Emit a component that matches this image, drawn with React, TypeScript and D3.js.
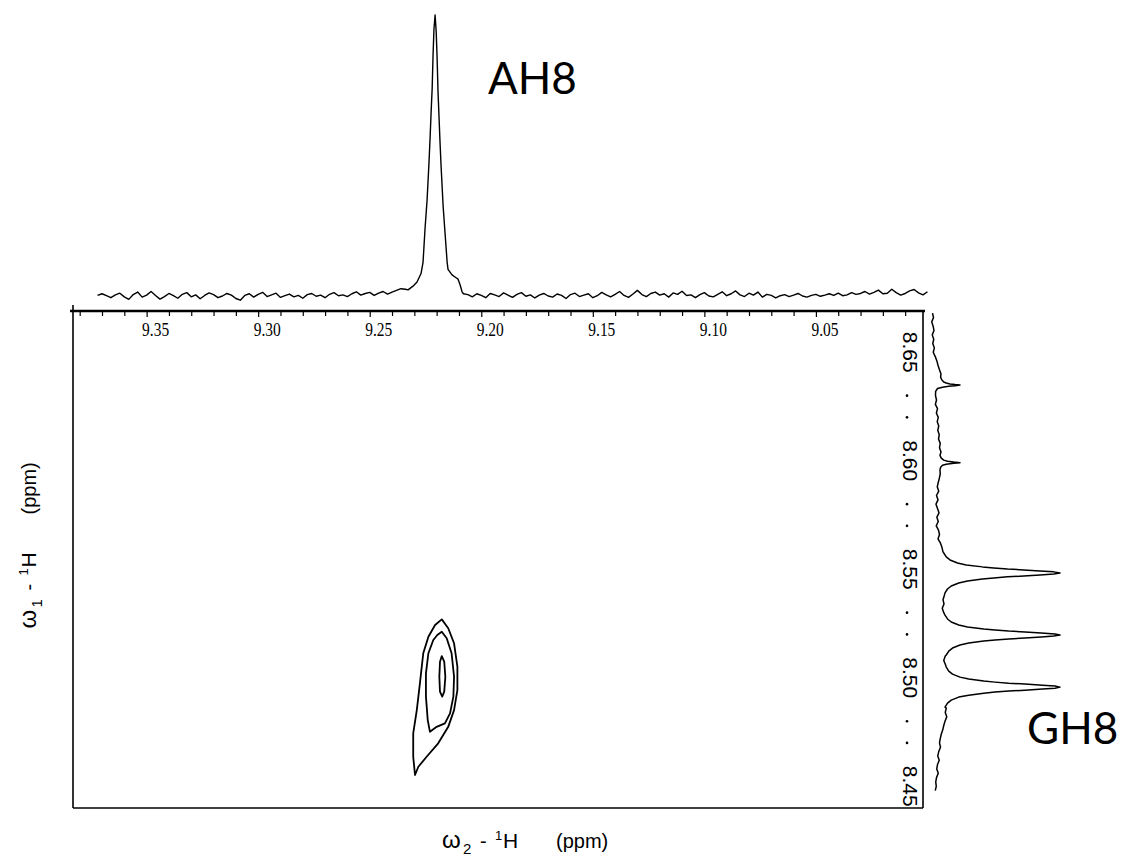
import React, { useRef, useEffect } from 'react';
import * as d3 from 'd3';

// omega-2 (direct, horizontal) and omega-1 (vertical) ppm ranges
const xDomain: [number, number] = [9.383, 9.002];
const yDomain: [number, number] = [8.669, 8.44];

const xMajorTicks = [9.35, 9.3, 9.25, 9.2, 9.15, 9.1, 9.05];
const xMinorTicks = [
  9.38, 9.37, 9.36, 9.34, 9.33, 9.32, 9.31, 9.29, 9.28, 9.27, 9.26, 9.24, 9.23, 9.22, 9.21,
  9.19, 9.18, 9.17, 9.16, 9.14, 9.13, 9.12, 9.11, 9.09, 9.08, 9.07, 9.06, 9.04, 9.03, 9.02, 9.01,
];
const yMajorTicks = [8.65, 8.6, 8.55, 8.5, 8.45];
const yMinorDots = [8.63, 8.62, 8.58, 8.57, 8.53, 8.52, 8.48, 8.47];

// top 1D projection: baseline noise every 0.002 ppm from 9.372 (null = under the peak)
const topStart = 9.372;
const topStep = 0.002;
const topNoise: (number | null)[] = [
  0.2, 0.8, 0.1, -0.6, 0.4, 1.0, -0.3, -1.2, 0.5, 1.4,
  -0.4, 0.3, 1.6, 0.2, -1.1, -0.2, 0.9, 0.1, -0.8, 0.6,
  1.2, -0.3, 0.4, -1.0, 0.2, 1.1, 0.5, -0.6, 0.0, 0.9,
  0.3, -0.9, -1.5, 0.2, 0.8, -0.4, 0.6, 1.3, -0.2, 0.4,
  1.0, -0.5, 0.1, 0.7, -0.3, 0.2, -0.8, 0.5, 0.9, -0.1,
  0.3, -0.6, 0.6, 1.2, 0.1, 0.4, -0.2, 0.8, 1.5, 0.3,
  0.9, 1.3, 0.2, 1.0, 1.6, 0.7, 1.4, 2.0, 2.6,
  2.4,
  null, null, null, null, null, null, null, null, null, null, null, null,
  0.8,
  0.5, -0.3, 0.8, 0.2, -0.6, 0.9, 0.4, -0.2, 1.1, 0.3,
  -0.5, 0.6, 1.2, -0.1, 0.4, -0.7, 0.3, 0.9, 0.0, -0.4,
  0.7, 0.2, -0.9, 0.5, 1.0, -0.2, 0.3, 0.8, -0.6, 0.1,
  1.3, 0.4, -0.3, 0.6, 1.6, 0.2, -0.5, 0.7, 2.0, 0.5,
  -0.2, 0.9, 1.4, 0.3, 0.8, -0.4, 1.1, 0.6, 1.7, 0.2,
  0.4, -0.6, 0.5, 1.2, 0.0, -0.3, 0.6, 1.5, 0.1, 0.8,
  1.8, 0.4, -0.2, 1.0, 0.3, 1.4, -0.4, 0.6, 0.2, -0.7,
  0.1, 0.5, -0.2, 0.3, 0.9, 0.0, -0.4, 0.2, 0.6, -0.1,
  0.3, 0.8, 0.2, 1.0, 0.1, 0.4, 1.2, 0.6, 0.9, 1.6,
  0.7, 1.3, 2.1, 0.8, 1.0, 2.4, 1.2, 0.3, 0.9, 1.8,
  2.3, 1.1, 0.4, 1.5,
];
// AH8 peak [ppm, intensity]
const topPeak: [number, number][] = [
  [9.2328, 2.2], [9.2306, 3.5], [9.2288, 5], [9.227, 8], [9.2261, 12], [9.2252, 24],
  [9.2243, 34], [9.2234, 48], [9.2229, 57], [9.2225, 65], [9.222, 74], [9.2216, 86],
  [9.2212, 95], [9.2207, 100], [9.2202, 94], [9.2198, 85], [9.2194, 73], [9.2189, 63],
  [9.2185, 55], [9.218, 46], [9.2171, 32], [9.2162, 22], [9.2153, 12], [9.2149, 9.5],
  [9.214, 8.5], [9.2131, 7.5], [9.2113, 6.5], [9.2104, 6], [9.2095, 4], [9.2086, 1.5],
];

// right 1D projection: baseline every 0.002 ppm from 8.668 (null = under a peak)
const sideStart = 8.668;
const sideStep = 0.002;
const sideNoise: (number | null)[] = [
  -2.0, -1.2, -2.6, -1.5, -0.8, -2.2, -1.0, -1.8, -0.5, -1.4,
  0.2, 1.5, 2.4, 3.5, 4.8, null, null, null, null, 0.4,
  1.2, 0.3, 2.0, 1.1, 2.6, 1.8, 3.0, 2.2, 3.4, 2.8,
  4.2, 3.6, 4.8, null, null, null, null, 4.2, 3.5, 2.6,
  1.8, 3.0, 1.2, 2.4, 0.8, 2.0, 3.2, 1.5, 2.6, 1.0,
  2.8, 3.6, 2.4, 4.4, 5.6, 6.4, null, null, null, null,
  null, null, null, null, null, 7.5, 6.4, 7.2, 5.8, 7.0,
  null, null, null, null, null, null, null, null, null, 8.2,
  7.0, 8.4, null, null, null, null, null, null, null, null,
  null, 9.0, 8.2, 9.4, 8.0, 7.0, 6.2, 5.0, 4.2, 3.6,
  4.4, 3.0, 2.2, 3.4, 2.0, 1.4, 2.6, 1.2, 0.6, 1.0,
  0.2,
];
const sidePeakA: [number, number][] = [
  [8.6385, 4.5], [8.6372, 5.5], [8.6363, 7], [8.6358, 9], [8.6354, 12], [8.6351, 16],
  [8.6349, 20], [8.6346, 16], [8.6343, 11], [8.6339, 6], [8.6333, 2], [8.632, 0.5],
];
const sidePeakB: [number, number][] = [
  [8.6025, 4], [8.6012, 5], [8.6003, 7], [8.5998, 10], [8.5994, 15], [8.5991, 20],
  [8.5988, 15], [8.5984, 9], [8.5979, 6], [8.597, 4.5], [8.5958, 4],
];
const sidePeakC: [number, number][] = [
  [8.5575, 7], [8.5557, 9], [8.5543, 12], [8.5529, 18], [8.552, 25], [8.5511, 38],
  [8.5506, 47], [8.5501, 58], [8.5497, 71], [8.5492, 84], [8.5488, 95], [8.5483, 100],
  [8.5478, 95], [8.5474, 84], [8.5469, 71], [8.5465, 58], [8.546, 47], [8.5455, 38],
  [8.5446, 26], [8.5437, 19], [8.5423, 13], [8.5409, 10], [8.5391, 8],
];
const sidePeakD: [number, number][] = [
  [8.5289, 8], [8.5271, 10], [8.5257, 13], [8.5243, 19], [8.5234, 26], [8.5225, 39],
  [8.522, 48], [8.5215, 59], [8.5211, 72], [8.5206, 85], [8.5202, 96], [8.5197, 100],
  [8.5192, 95], [8.5188, 85], [8.5183, 72], [8.5179, 59], [8.5174, 48], [8.5169, 39],
  [8.516, 27], [8.5151, 20], [8.5137, 14], [8.5123, 11], [8.5105, 9],
];
const sidePeakE: [number, number][] = [
  [8.5049, 9], [8.5031, 11], [8.5017, 14], [8.5003, 20], [8.4994, 27], [8.4985, 39],
  [8.498, 48], [8.4975, 59], [8.4971, 72], [8.4966, 86], [8.4962, 96], [8.4957, 100],
  [8.4952, 96], [8.4948, 86], [8.4943, 72], [8.4939, 59], [8.4934, 48], [8.4929, 39],
  [8.492, 27], [8.4911, 19], [8.4897, 13], [8.4883, 10], [8.4865, 8],
];

// cross-peak contour levels, [omega2 ppm, omega1 ppm]
const contourOuter: [number, number][] = [
  [9.2177, 8.5269], [9.2148, 8.5228], [9.2122, 8.5159], [9.2107, 8.5051], [9.2107, 8.4943],
  [9.2122, 8.4851], [9.2148, 8.4774], [9.2193, 8.4698], [9.2245, 8.4636], [9.2282, 8.459],
  [9.2297, 8.4552], [9.2305, 8.4636], [9.2305, 8.4744], [9.2289, 8.4851], [9.2275, 8.4974],
  [9.226, 8.5113], [9.2237, 8.5189], [9.2207, 8.5243],
];
const contourMiddle: [number, number][] = [
  [9.2177, 8.5212], [9.2155, 8.5182], [9.2133, 8.5113], [9.2122, 8.5005], [9.2125, 8.4913],
  [9.214, 8.4836], [9.2163, 8.479], [9.22, 8.4774], [9.223, 8.4751], [9.224, 8.4805],
  [9.2248, 8.4913], [9.2248, 8.502], [9.2237, 8.5113], [9.2215, 8.5174], [9.2197, 8.5197],
];
const contourInner: [number, number][] = [
  [9.2177, 8.51], [9.2166, 8.5074], [9.2161, 8.5005], [9.2166, 8.4936], [9.2175, 8.4913],
  [9.2185, 8.4936], [9.2188, 8.5005], [9.2185, 8.5074],
];

const peakLabels = [
  { text: 'AH8', ppm: 9.197, level: 72, axis: 'top' },
  { text: 'GH8', ppm: 8.4695, level: 73.6, axis: 'side' },
];

export default function App() {
  const svgRef = useRef<SVGSVGElement>(null);

  useEffect(() => {
    const svg = d3.select(svgRef.current);
    svg.selectAll('*').remove();

    const x = d3.scaleLinear().domain(xDomain).range([73, 923]);
    const y = d3.scaleLinear().domain(yDomain).range([311, 808]);
    const topY = d3.scaleLinear().domain([0, 100]).range([296, 15]);
    const sideX = d3.scaleLinear().domain([0, 100]).range([935, 1060]);
    const [x0, x1] = x.range();
    const [y0, y1] = y.range();

    // frame
    const frame = svg.append('g').attr('stroke', '#000').attr('fill', 'none');
    frame.append('line').attr('x1', x0).attr('x2', x0).attr('y1', y0 - 6).attr('y2', y1).attr('stroke-width', 1.6);
    frame.append('line').attr('x1', x1).attr('x2', x1).attr('y1', y0).attr('y2', y1).attr('stroke-width', 1.6);
    frame.append('line').attr('x1', x0).attr('x2', x1).attr('y1', y1).attr('y2', y1).attr('stroke-width', 1.6);
    frame.append('line').attr('x1', x0 - 3).attr('x2', x1 + 2).attr('y1', y0).attr('y2', y0).attr('stroke-width', 2.6);

    // top axis ticks (pointing into the plot)
    const minorG = svg.append('g').attr('transform', `translate(0,${y0})`);
    minorG.call(d3.axisBottom(x).tickValues(xMinorTicks).tickSize(5).tickFormat(() => ''));
    minorG.select('.domain').remove();
    minorG.selectAll('line').attr('stroke-width', 1.2);

    const majorG = svg.append('g').attr('transform', `translate(0,${y0})`);
    majorG.call(
      d3.axisBottom(x).tickValues(xMajorTicks).tickSize(6).tickPadding(6).tickFormat(d3.format('.2f'))
    );
    majorG.select('.domain').remove();
    majorG.selectAll('line').attr('stroke-width', 1.2);
    majorG.attr('font-family', null).attr('font-size', null);
    majorG
      .selectAll('text')
      .attr('x', -5)
      .attr('text-anchor', 'start')
      .attr('fill', '#000')
      .attr('textLength', 27)
      .attr('lengthAdjust', 'spacingAndGlyphs')
      .style('font-family', '"Liberation Serif", "DejaVu Serif", serif')
      .style('font-size', '19px');

    // right axis labels, rotated
    svg
      .append('g')
      .selectAll('text')
      .data(yMajorTicks)
      .join('text')
      .attr('transform', (d) => `translate(903,${y(d)}) rotate(90)`)
      .attr('text-anchor', 'middle')
      .style('font-family', '"Liberation Sans", Arial, sans-serif')
      .style('font-size', '21px')
      .attr('fill', '#000')
      .text((d) => d3.format('.2f')(d));

    svg
      .append('g')
      .selectAll('circle')
      .data(yMinorDots)
      .join('circle')
      .attr('cx', 907)
      .attr('cy', (d) => y(d))
      .attr('r', 1.3)
      .attr('fill', '#000');

    // top projection
    const topPts = topNoise
      .map((v, i) => (v == null ? null : ([topStart - i * topStep, v] as [number, number])))
      .filter((d): d is [number, number] => d !== null)
      .concat(topPeak)
      .sort((a, b) => b[0] - a[0]);

    const topLine = d3
      .line<[number, number]>()
      .x((d) => x(d[0]))
      .y((d) => topY(d[1]));

    svg
      .append('path')
      .attr('d', topLine(topPts))
      .attr('fill', 'none')
      .attr('stroke', '#000')
      .attr('stroke-width', 1.4)
      .attr('stroke-linejoin', 'round');

    // side projection
    const sidePts = sideNoise
      .map((v, i) => (v == null ? null : ([sideStart - i * sideStep, v] as [number, number])))
      .filter((d): d is [number, number] => d !== null)
      .concat(sidePeakA, sidePeakB, sidePeakC, sidePeakD, sidePeakE)
      .sort((a, b) => b[0] - a[0]);

    const sideLine = d3
      .line<[number, number]>()
      .x((d) => sideX(d[1]))
      .y((d) => y(d[0]));

    svg
      .append('path')
      .attr('d', sideLine(sidePts))
      .attr('fill', 'none')
      .attr('stroke', '#000')
      .attr('stroke-width', 1.5)
      .attr('stroke-linejoin', 'round');

    // contours
    const contourLine = d3
      .line<[number, number]>()
      .x((d) => x(d[0]))
      .y((d) => y(d[1]))
      .curve(d3.curveLinearClosed);

    svg
      .append('g')
      .selectAll('path')
      .data([contourOuter, contourMiddle, contourInner])
      .join('path')
      .attr('d', (d) => contourLine(d))
      .attr('fill', 'none')
      .attr('stroke', '#000')
      .attr('stroke-width', 1.8)
      .attr('stroke-linejoin', 'round');

    // peak labels
    svg
      .append('g')
      .selectAll('text')
      .data(peakLabels)
      .join('text')
      .attr('x', (d) => (d.axis === 'top' ? x(d.ppm) : sideX(d.level)))
      .attr('y', (d) => (d.axis === 'top' ? topY(d.level) : y(d.ppm)))
      .style('font-family', 'Lato, "DejaVu Sans", sans-serif')
      .style('font-weight', '400')
      .style('font-size', '44px')
      .attr('fill', '#000')
      .text((d) => d.text);

    // axis titles: pieces placed along the baseline, relative to the title centre
    const addTitle = (g: any, sub: string) => {
      g.style('font-family', '"Liberation Sans", Arial, sans-serif').style('font-size', '20px').attr('fill', '#000');
      g.append('tspan').attr('x', -83).attr('y', 0).style('font-size', '24px').text('ω');
      g.append('tspan').attr('x', -62).attr('y', 6).style('font-size', '15px').text(sub);
      g.append('tspan').attr('x', -45).attr('y', 0).text('-');
      g.append('tspan').attr('x', -30).attr('y', -8).style('font-size', '13px').text('1');
      g.append('tspan').attr('x', -22).attr('y', 0).style('font-size', '21px').text('H');
      g.append('tspan').attr('x', 31).attr('y', 0).text('(ppm)');
    };

    addTitle(svg.append('text').attr('transform', 'translate(525,848)'), '2');
    addTitle(svg.append('text').attr('transform', `translate(36,${(y0 + y1) / 2 - 14}) rotate(-90)`), '1');
  }, []);

  return (
    <div style={{ position: 'absolute', left: 0, top: 0, background: '#fff' }}>
      <svg ref={svgRef} width={1124} height={858} style={{ display: 'block' }} />
    </div>
  );
}
